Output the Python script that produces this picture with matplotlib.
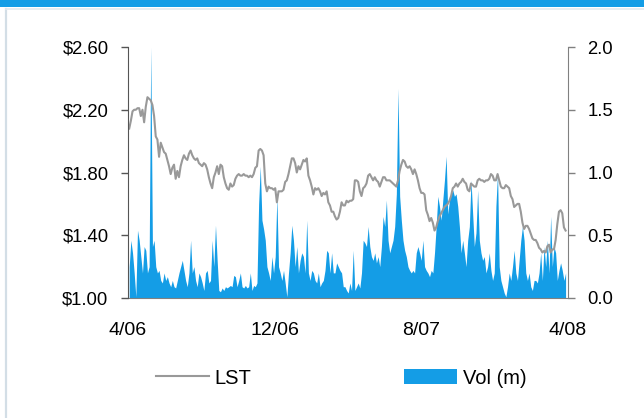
import matplotlib
matplotlib.use("Agg")
import matplotlib.pyplot as plt
from matplotlib.lines import Line2D
from matplotlib.patches import Rectangle, Patch
import pandas as pd

plt.rcParams['font.family'] = ['Liberation Sans', 'DejaVu Sans']

# ---- data ----
start_date = '2006-04-03'
end_date = '2008-03-28'

price = [
    2.08, 2.13, 2.19, 2.20, 2.20, 2.21, 2.21, 2.16, 2.20, 2.12, 2.22, 2.28, 2.27, 2.26, 2.23, 2.16,
    2.03, 2.01, 1.90, 1.99, 1.96, 1.93, 1.92, 1.88, 1.84, 1.79, 1.83, 1.85, 1.76, 1.81, 1.77, 1.84,
    1.88, 1.91, 1.89, 1.88, 1.92, 1.94, 1.91, 1.89, 1.88, 1.89, 1.86, 1.85, 1.84, 1.86, 1.85, 1.82,
    1.77, 1.73, 1.70, 1.77, 1.80, 1.84, 1.79, 1.85, 1.84, 1.77, 1.73, 1.70, 1.69, 1.73, 1.71, 1.72,
    1.76, 1.78, 1.79, 1.78, 1.78, 1.79, 1.78, 1.78, 1.77, 1.78, 1.77, 1.79, 1.83, 1.84, 1.94, 1.95,
    1.94, 1.91, 1.73, 1.68, 1.71, 1.70, 1.70, 1.69, 1.70, 1.61, 1.68, 1.68, 1.68, 1.69, 1.74, 1.75,
    1.79, 1.84, 1.89, 1.89, 1.86, 1.80, 1.84, 1.82, 1.85, 1.88, 1.87, 1.89, 1.78, 1.75, 1.71, 1.66,
    1.70, 1.69, 1.70, 1.68, 1.65, 1.67, 1.66, 1.68, 1.61, 1.59, 1.55, 1.55, 1.52, 1.50, 1.51, 1.55,
    1.61, 1.59,
    1.59, 1.62, 1.61, 1.62, 1.62, 1.63, 1.75, 1.75, 1.74, 1.68, 1.65, 1.70, 1.71, 1.73, 1.78, 1.79,
    1.77, 1.75, 1.77, 1.75, 1.74, 1.71, 1.74, 1.77, 1.77, 1.75, 1.75, 1.75, 1.74, 1.73, 1.72, 1.71,
    1.75, 1.81, 1.85, 1.88, 1.87, 1.84, 1.83, 1.84, 1.82, 1.79, 1.82, 1.79, 1.75, 1.70, 1.67, 1.67,
    1.66, 1.56, 1.53, 1.49, 1.51, 1.48, 1.43, 1.45, 1.49, 1.52, 1.54, 1.56, 1.58, 1.59, 1.60, 1.62,
    1.65, 1.70,
    1.71, 1.73, 1.71, 1.73, 1.74, 1.76, 1.74, 1.73, 1.69, 1.68, 1.73, 1.72, 1.71, 1.71, 1.75, 1.76,
    1.75, 1.75, 1.74, 1.75, 1.75, 1.76, 1.79, 1.78, 1.75, 1.75, 1.79, 1.75, 1.71, 1.70, 1.70, 1.72,
    1.71, 1.70, 1.65, 1.63, 1.58, 1.59, 1.60, 1.60, 1.55, 1.48, 1.44, 1.46, 1.46, 1.44, 1.41, 1.38,
    1.37, 1.37, 1.35, 1.32, 1.31, 1.29, 1.30, 1.29, 1.33, 1.34, 1.29, 1.31, 1.31, 1.37, 1.47, 1.55,
    1.56, 1.54, 1.45, 1.43,
]

volume = [
    0.25, 0.46, 0.36, 0.20, 0.01, 0.54, 0.46, 0.33, 0.20, 0.41, 0.38, 0.20, 0.25, 2.00, 0.41, 0.46,
    0.25, 0.20, 0.22, 0.14, 0.12, 0.20, 0.14, 0.17, 0.12, 0.09, 0.14, 0.09, 0.08, 0.14, 0.20, 0.25,
    0.30, 0.22, 0.14, 0.09, 0.20, 0.46, 0.20, 0.25, 0.14, 0.09, 0.20, 0.17, 0.12, 0.06, 0.20, 0.22,
    0.12, 0.14, 0.46, 0.25, 0.58, 0.30, 0.06, 0.05, 0.08, 0.06, 0.09, 0.08, 0.09, 0.10, 0.09, 0.18,
    0.17, 0.09, 0.14, 0.20, 0.09, 0.08, 0.10, 0.08, 0.09, 0.20, 0.06, 0.10, 0.09, 0.12, 0.75, 1.05,
    0.62, 0.55, 0.46, 0.25, 0.20, 0.14, 0.33, 0.20, 0.33, 0.81, 0.25, 0.20, 0.14, 0.22, 0.12, 0.01,
    0.20, 0.36, 0.58, 0.46, 0.25, 0.41, 0.20, 0.30, 0.36, 0.33, 0.20, 0.62, 0.20, 0.14, 0.22, 0.20,
    0.14, 0.12, 0.20, 0.09, 0.12, 0.14, 0.22, 0.38, 0.36, 0.20, 0.36, 0.20, 0.20, 0.28, 0.25, 0.22,
    0.20, 0.09,
    0.09, 0.06, 0.04, 0.12, 0.06, 0.38, 0.06, 0.09, 0.12, 0.08, 0.20, 0.46, 0.44, 0.41, 0.57, 0.41,
    0.33, 0.30, 0.36, 0.28, 0.33, 0.25, 0.41, 0.65, 0.57, 0.78, 0.46, 0.36, 0.41, 0.46, 0.57, 0.83,
    1.67, 0.81, 0.62, 0.46, 0.38, 0.33, 0.25, 0.22, 0.20, 0.22, 0.20, 0.36, 0.41, 0.36, 0.30, 0.46,
    0.25, 0.22, 0.20, 0.17, 0.22, 0.20, 0.36, 0.57, 0.81, 0.73, 0.62, 0.78, 0.94, 1.13, 0.67, 0.78,
    0.83, 0.86,
    0.81, 0.83, 0.73, 0.57, 0.36, 0.46, 0.36, 0.25, 0.46, 0.57, 0.94, 0.67, 0.41, 0.52, 0.86, 0.46,
    0.36, 0.30, 0.33, 0.20, 0.25, 0.36, 0.22, 0.14, 0.20, 0.73, 1.00, 0.25, 0.14, 0.09, 0.04, 0.01,
    0.09, 0.20, 0.14, 0.25, 0.38, 0.20, 0.14, 0.30, 0.46, 0.57, 0.46, 0.20, 0.14, 0.20, 0.09, 0.06,
    0.14, 0.14, 0.12, 0.20, 0.36, 0.14, 0.41, 0.25, 0.46, 0.20, 0.65, 0.25, 0.41, 0.36, 0.14, 0.22,
    0.28, 0.22, 0.14, 0.20,
]

tick_dates = ['2006-04-01', '2006-12-01', '2007-08-01', '2008-04-01']
tick_labels = ['4/06', '12/06', '8/07', '4/08']
price_ticks = [1.00, 1.40, 1.80, 2.20, 2.60]
price_labels = ['$1.00', '$1.40', '$1.80', '$2.20', '$2.60']
vol_ticks = [0.0, 0.5, 1.0, 1.5, 2.0]
vol_labels = ['0.0', '0.5', '1.0', '1.5', '2.0']
series_names = ['LST', 'Vol (m)']

# ---- styling ----
LINE_C = '#999999'
VOL_C = '#149DE6'
W, H = 644, 418

dates_p = pd.date_range(start_date, end_date, periods=len(price))
dates_v = pd.date_range(start_date, end_date, periods=len(volume))

fig = plt.figure(figsize=(W / 100, H / 100), dpi=100)
fig.patch.set_facecolor('white')

# top banner and frame
fig.add_artist(Rectangle((0, 1 - 7 / H), 1, 7 / H, transform=fig.transFigure,
                         facecolor=VOL_C, edgecolor='none'))
fig.add_artist(Line2D([5.5 / W, 5.5 / W], [0, 1 - 8.5 / H], transform=fig.transFigure,
                      color='#D3DEE6', lw=1.6))
fig.add_artist(Line2D([5.5 / W, 1], [1 - 8.5 / H, 1 - 8.5 / H], transform=fig.transFigure,
                      color='#E3EAF0', lw=1.2))

left, right, top, bottom = 128 / W, 568 / W, 1 - 47 / H, 1 - 298 / H
ax = fig.add_axes([left, bottom, right - left, top - bottom])   # volume (right axis)
ax2 = ax.twinx()                                                 # price (left axis)

ax.fill_between(dates_v, 0, volume, color=VOL_C, linewidth=0)
ax2.plot(dates_p, price, color=LINE_C, lw=1.5)

xmin, xmax = pd.Timestamp(tick_dates[0]), pd.Timestamp(tick_dates[-1])
ax.set_xlim(xmin, xmax)
ax.set_ylim(0, 2.0)
ax2.set_ylim(1.0, 2.6)

ax.yaxis.tick_right()
ax.yaxis.set_label_position('right')
ax2.yaxis.tick_left()
ax2.yaxis.set_label_position('left')

ax.set_yticks(vol_ticks)
ax.set_yticklabels(vol_labels)
ax2.set_yticks(price_ticks)
ax2.set_yticklabels(price_labels)
ax.set_xticks([pd.Timestamp(d) for d in tick_dates])
ax.set_xticklabels(tick_labels)

FS = 13.3
ax.tick_params(axis='y', direction='out', length=5, width=1, color='#808080',
               labelsize=FS, pad=9, right=True, left=False)
ax2.tick_params(axis='y', direction='out', length=5, width=1, color='#555555',
                labelsize=FS, pad=9, left=True, right=False)
ax.tick_params(axis='x', length=0, labelsize=14, pad=17)

for a in (ax, ax2):
    a.spines['top'].set_visible(False)
    a.set_facecolor('none')
ax.spines['left'].set_visible(False)
ax.spines['right'].set_color('#808080')
ax.spines['bottom'].set_color('#808080')
ax2.spines['right'].set_visible(False)
ax2.spines['bottom'].set_visible(False)
ax2.spines['left'].set_color('#555555')

handles = [Line2D([], [], color=LINE_C, lw=1.5), Patch(facecolor=VOL_C, edgecolor='none')]
fig.legend(handles, series_names, loc='center', bbox_to_anchor=(0.530, 1 - 378 / H),
           ncol=2, frameon=False, fontsize=14.5, handlelength=2.6, handleheight=0.7,
           handletextpad=0.3, columnspacing=7.6)

fig.savefig('out.png', dpi=100)
